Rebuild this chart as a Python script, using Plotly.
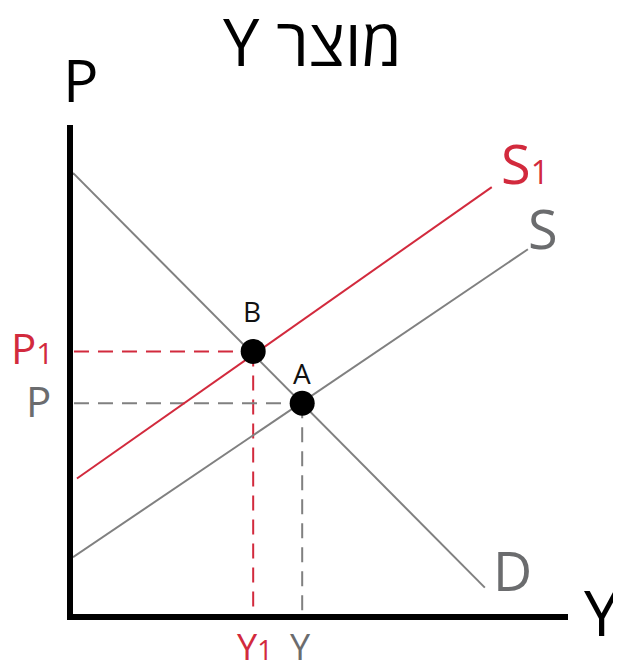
import plotly.graph_objects as go

# ---- data (abstract price / quantity units) ----
D_x = [0.0, 8.32]
D_y = [9.02, 0.54]
S_x = [0.0, 9.19]
S_y = [1.16, 7.46]
S1_x = [0.08, 8.46]
S1_y = [2.77, 8.73]

eq_names = ["B", "A"]
eq_x = [3.64, 4.63]
eq_y = [5.37, 4.31]

RED = "#d22a3d"
GRAY_LINE = "#808080"
GRAY_TXT = "#6b6c6e"
FONT = "Open Sans, Noto Sans, DejaVu Sans, sans-serif"

X_RANGE = [0, 10]
Y_RANGE = [0, 10]

TITLE = "\u202bמוצר Y\u202c"  # right-to-left embedding

fig = go.Figure()

# guide dashed lines (B -> red, A -> gray)
guide_colors = [RED, GRAY_LINE]
for bx, by, c in zip(eq_x, eq_y, guide_colors):
    fig.add_trace(go.Scatter(x=[0.02, bx], y=[by, by], mode="lines",
                             line=dict(color=c, width=2, dash="15px,9px"),
                             hoverinfo="skip", showlegend=False))
    fig.add_trace(go.Scatter(x=[bx, bx], y=[by, 0.02], mode="lines",
                             line=dict(color=c, width=2, dash="15px,9px"),
                             hoverinfo="skip", showlegend=False))

fig.add_trace(go.Scatter(x=D_x, y=D_y, mode="lines",
                         line=dict(color=GRAY_LINE, width=2), showlegend=False))
fig.add_trace(go.Scatter(x=S_x, y=S_y, mode="lines",
                         line=dict(color=GRAY_LINE, width=2), showlegend=False))
fig.add_trace(go.Scatter(x=S1_x, y=S1_y, mode="lines",
                         line=dict(color=RED, width=2), showlegend=False))
fig.add_trace(go.Scatter(x=eq_x, y=eq_y, mode="markers",
                         marker=dict(color="black", size=25, line=dict(width=0)),
                         showlegend=False, cliponaxis=False))

# ---- text labels (positions in the same data units) ----
label_text = ["S<span style='font-size:32px'>1</span>", "S", "D",
              "B", "A",
              "P<span style='font-size:30px'>1</span>", "P",
              "Y<span style='font-size:27px'>1</span>", "Y",
              "P", "Y", TITLE]
label_x = [9.13, 9.50, 8.87, 3.62, 4.63, -0.83, -0.69, 3.68, 4.59, 0.16, 10.69, 4.83]
label_y = [9.22, 7.89, 0.89, 6.19, 4.92, 5.44, 4.37, -0.66, -0.66, 10.94, 0.05, 11.71]
label_color = [RED, GRAY_TXT, GRAY_TXT, "#111111", "#111111", RED, GRAY_TXT,
               RED, GRAY_TXT, "black", "black", "black"]
label_size = [54, 54, 54, 28, 28, 42, 42, 36, 36, 59, 63, 65]


def to_paper(v, rng):
    return (v - rng[0]) / (rng[1] - rng[0])


for t, x, y, c, s in zip(label_text, label_x, label_y, label_color, label_size):
    fig.add_annotation(x=to_paper(x, X_RANGE), y=to_paper(y, Y_RANGE),
                       xref="paper", yref="paper", text=t, showarrow=False,
                       font=dict(family=FONT, size=s, color=c),
                       xanchor="center", yanchor="middle")

fig.update_layout(
    width=613, height=663,
    margin=dict(l=65, r=53, t=117, b=57),
    paper_bgcolor="white", plot_bgcolor="white",
    xaxis=dict(range=X_RANGE, showgrid=False, zeroline=False, showticklabels=False,
               ticks="", showline=True, linecolor="black", linewidth=6),
    yaxis=dict(range=Y_RANGE, showgrid=False, zeroline=False, showticklabels=False,
               ticks="", showline=True, linecolor="black", linewidth=6),
)

fig.write_html("out.html")
